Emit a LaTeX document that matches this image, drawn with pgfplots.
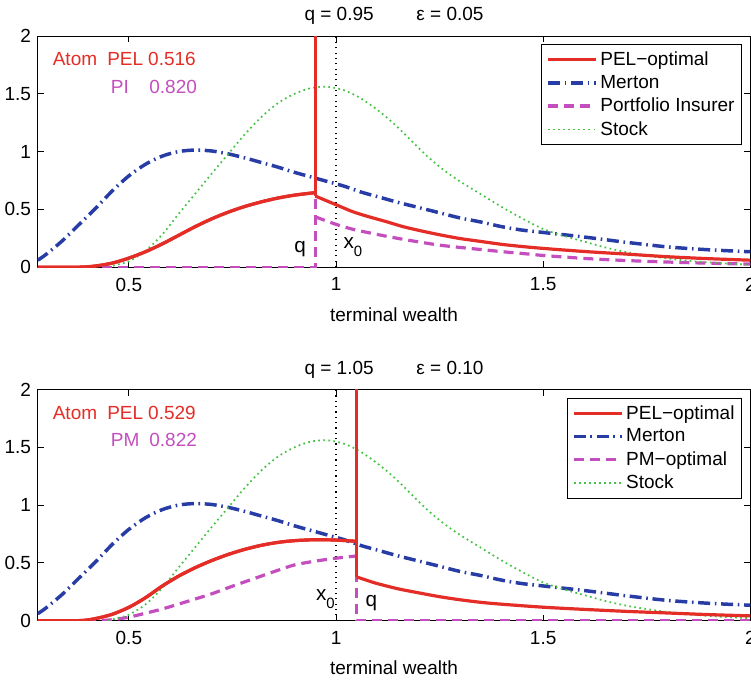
\documentclass[border=0pt]{standalone}
\usepackage{fontspec}
\setmainfont{Liberation Sans}
\usepackage{pgfplots}
\pgfplotsset{compat=1.18}

\definecolor{pelred}{RGB}{228,45,38}
\definecolor{mblue}{RGB}{40,60,165}
\definecolor{pimag}{RGB}{196,78,190}
\definecolor{stockgreen}{RGB}{70,195,70}

\newcommand{\mfont}{\fontsize{14.25}{17}\selectfont}
\newcommand{\afont}{\fontsize{15.5}{18}\selectfont}

\pgfplotsset{
  pel/.style={color=pelred, line width=2.4pt, solid},
  mer/.style={color=mblue, line width=2.6pt, dash pattern=on 9pt off 3.5pt on 1.2pt off 3.5pt},
  pim/.style={color=pimag, line width=2.4pt, dash pattern=on 7.5pt off 4.5pt},
  stk/.style={color=stockgreen, line width=1.3pt, dash pattern=on 1.3pt off 2.5pt},
  mystyle/.style={
    width=534.2pt, height=173.25pt, scale only axis,
    xmin=0.28, xmax=2, ymin=0, ymax=2,
    xtick={0.5,1,1.5,2}, ytick={0,0.5,1,1.5,2},
    tick align=inside, tick pos=both,
    major tick length=4.5pt,
    tick style={black, line width=0.6pt},
    axis line style={line width=0.75pt},
    /pgf/number format/assume math mode=true,
    every tick label/.append style={font=\mfont},
    xticklabel style={yshift=-4.5pt},
    yticklabel style={xshift=-1.5pt},
    xlabel={terminal wealth},
    xlabel style={font=\mfont, at={(0.5,0)}, anchor=base, yshift=-40.5pt},
    title style={font=\mfont, at={(0.5,1)}, anchor=base, yshift=5.5pt},
    legend style={at={(0.9888,0.9654)}, anchor=north east, draw=black,
      line width=0.75pt, font=\mfont, legend cell align=left,
      inner sep=3.5pt, row sep=1.8pt},
    legend image code/.code={\draw[##1] (0pt,0pt) -- (36pt,0pt);},
  },
}

% ---------- data ----------
\pgfplotstableread{
x y
0.45 0.0
0.48 0.03
0.50 0.05
0.54 0.14
0.58 0.28
0.62 0.46
0.66 0.635
0.70 0.81
0.74 0.98
0.78 1.15
0.82 1.30
0.86 1.42
0.90 1.50
0.94 1.55
0.98 1.56
1.02 1.53
1.06 1.46
1.10 1.36
1.14 1.24
1.18 1.10
1.22 0.96
1.26 0.84
1.30 0.74
1.35 0.63
1.40 0.52
1.45 0.42
1.50 0.33
1.55 0.27
1.60 0.22
1.65 0.17
1.70 0.13
1.75 0.10
1.80 0.075
1.85 0.055
1.90 0.04
1.95 0.03
2.00 0.02
}\stock

\pgfplotstableread{
x y
0.28 0.06
0.30 0.11
0.34 0.23
0.38 0.37
0.42 0.51
0.46 0.66
0.50 0.79
0.54 0.89
0.58 0.96
0.62 1.00
0.66 1.013
0.70 1.005
0.74 0.98
0.78 0.945
0.82 0.905
0.86 0.865
0.90 0.82
0.94 0.78
0.98 0.74
1.02 0.70
1.06 0.65
1.10 0.61
1.15 0.56
1.20 0.515
1.25 0.47
1.30 0.425
1.35 0.39
1.40 0.35
1.45 0.32
1.50 0.30
1.60 0.26
1.70 0.215
1.80 0.175
1.90 0.15
2.00 0.133
}\merton

% top PEL, left of q and right of q
\pgfplotstableread{
x y
0.28 0
0.38 0
0.42 0.01
0.46 0.035
0.50 0.078
0.54 0.133
0.58 0.20
0.62 0.275
0.66 0.350
0.70 0.418
0.74 0.476
0.78 0.525
0.82 0.565
0.86 0.598
0.90 0.623
0.95 0.645
}\pelAleft
\pgfplotstableread{
x y
0.95 0.615
1.00 0.54
1.04 0.48
1.08 0.435
1.12 0.395
1.16 0.352
1.20 0.318
1.25 0.28
1.30 0.247
1.35 0.222
1.40 0.197
1.45 0.178
1.50 0.162
1.60 0.135
1.70 0.113
1.80 0.09
1.90 0.073
2.00 0.06
}\pelAright
\pgfplotstableread{
x y
0.95 0.435
1.00 0.37
1.04 0.328
1.08 0.297
1.12 0.268
1.16 0.242
1.20 0.218
1.25 0.19
1.30 0.17
1.35 0.152
1.40 0.134
1.45 0.118
1.50 0.101
1.60 0.075
1.70 0.057
1.80 0.044
1.90 0.034
2.00 0.026
}\piright

% bottom PEL
\pgfplotstableread{
x y
0.28 0
0.38 0
0.42 0.018
0.46 0.055
0.50 0.115
0.54 0.198
0.58 0.298
0.62 0.385
0.66 0.458
0.70 0.520
0.74 0.573
0.78 0.617
0.82 0.652
0.86 0.677
0.90 0.692
0.95 0.700
1.00 0.697
1.05 0.686
}\pelBleft
\pgfplotstableread{
x y
1.05 0.378
1.08 0.342
1.10 0.32
1.15 0.275
1.20 0.24
1.25 0.207
1.30 0.18
1.35 0.158
1.40 0.142
1.50 0.116
1.60 0.097
1.70 0.08
1.80 0.066
1.90 0.052
2.00 0.041
}\pelBright
\pgfplotstableread{
x y
0.28 0
0.42 0
0.46 0.008
0.50 0.03
0.54 0.064
0.58 0.10
0.62 0.143
0.66 0.187
0.70 0.232
0.74 0.285
0.78 0.336
0.82 0.386
0.86 0.436
0.90 0.482
0.95 0.515
1.00 0.54
1.05 0.56
}\pmleft

\begin{document}
\begin{tikzpicture}
% ================= top panel =================
\begin{axis}[mystyle, name=top,
  title={q = 0.95\hspace{32pt}ε = 0.05}]
\addplot[black, line width=0.9pt, dash pattern=on 0.8pt off 3.2pt, forget plot] coordinates {(1,0) (1,2)};
\addplot[pel, smooth] table {\pelAleft};
\addlegendentry{PEL−optimal}
\addplot[mer, smooth] table {\merton};
\addlegendentry{Merton}
\addplot[pim, smooth] table {\piright};
\addlegendentry{Portfolio Insurer}
\addplot[stk, smooth] table {\stock};
\addlegendentry{Stock}
\addplot[pim, forget plot] coordinates {(0.28,0) (0.95,0) (0.95,0.62)};
\addplot[pel, smooth, forget plot] table {\pelAleft};
\addplot[pel, forget plot] coordinates {(0.95,0.615) (0.95,2.5)};
\addplot[pel, smooth, forget plot] table {\pelAright};
\node[anchor=base west, inner sep=0pt, text=pelred, font=\mfont] at (axis cs:0.3157,1.743) {Atom};
\node[anchor=base west, inner sep=0pt, text=pelred, font=\mfont] at (axis cs:0.4472,1.743) {PEL};
\node[anchor=base west, inner sep=0pt, text=pelred, font=\mfont] at (axis cs:0.546,1.743) {0.516};
\node[anchor=base west, inner sep=0pt, text=pimag, font=\mfont] at (axis cs:0.456,1.504) {PI};
\node[anchor=base west, inner sep=0pt, text=pimag, font=\mfont] at (axis cs:0.5487,1.504) {0.820};
\node[anchor=base east, inner sep=0pt, font=\afont] at (axis cs:0.928,0.124) {q};
\node[anchor=base west, inner sep=0pt, font=\afont] at (axis cs:1.0176,0.165) {x\raisebox{-6.5pt}{\fontsize{11.2}{12}\selectfont 0}};
\end{axis}

% ================= bottom panel =================
\begin{axis}[mystyle, name=bot, at={(0pt,-265pt)},
  title={q = 1.05\hspace{32pt}ε = 0.10}]
\addplot[black, line width=0.9pt, dash pattern=on 0.8pt off 3.2pt, forget plot] coordinates {(1,0) (1,2)};
\addplot[pel, smooth] table {\pelBleft};
\addlegendentry{PEL−optimal}
\addplot[mer, smooth] table {\merton};
\addlegendentry{Merton}
\addplot[pim, smooth] table {\pmleft};
\addlegendentry{PM−optimal}
\addplot[stk, smooth] table {\stock};
\addlegendentry{Stock}
\addplot[pim, forget plot] coordinates {(1.05,0.56) (1.05,0) (2,0)};
\addplot[pel, smooth, forget plot] table {\pelBleft};
\addplot[pel, forget plot] coordinates {(1.05,0.686) (1.05,2.5)};
\addplot[pel, forget plot] coordinates {(1.05,0.686) (1.05,0.378)};
\addplot[pel, smooth, forget plot] table {\pelBright};
\node[anchor=base west, inner sep=0pt, text=pelred, font=\mfont] at (axis cs:0.3157,1.743) {Atom};
\node[anchor=base west, inner sep=0pt, text=pelred, font=\mfont] at (axis cs:0.4472,1.743) {PEL};
\node[anchor=base west, inner sep=0pt, text=pelred, font=\mfont] at (axis cs:0.546,1.743) {0.529};
\node[anchor=base west, inner sep=0pt, text=pimag, font=\mfont] at (axis cs:0.456,1.504) {PM};
\node[anchor=base west, inner sep=0pt, text=pimag, font=\mfont] at (axis cs:0.5487,1.504) {0.822};
\node[anchor=base west, inner sep=0pt, font=\afont] at (axis cs:0.951,0.176) {x\raisebox{-6.5pt}{\fontsize{11.2}{12}\selectfont 0}};
\node[anchor=base west, inner sep=0pt, font=\afont] at (axis cs:1.0706,0.124) {q};
\end{axis}

\pgfresetboundingbox
\path[use as bounding box] (-28.3pt,200.25pt) rectangle (534.7pt,-311.5pt);
\end{tikzpicture}
\end{document}
